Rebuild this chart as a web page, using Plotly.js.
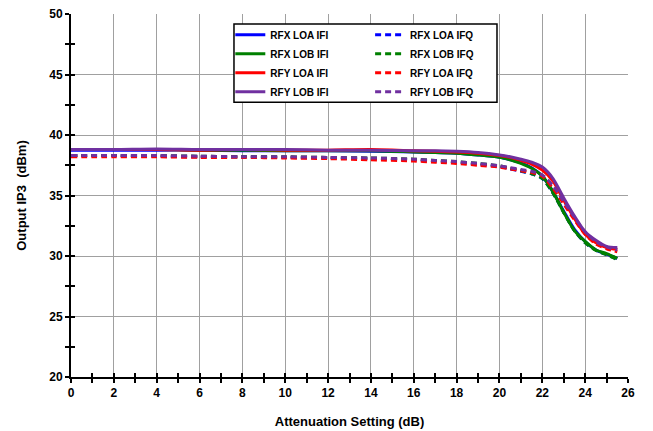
<!DOCTYPE html>
<html>
<head>
<meta charset="utf-8">
<script src="https://cdn.plot.ly/plotly-3.0.1.min.js"></script>
<style>html,body{margin:0;padding:0;background:#fff;}#chart{width:653px;height:431px;}</style>
</head>
<body>
<div id="chart"></div>
<script>
// Attenuation settings (dB)
var atten = [0,2,4,6,8,10,12,14,16,17,18,19,20,20.5,21,21.5,22,22.5,23,23.5,24,24.5,25,25.5];

// Output IP3 (dBm)
var rfxLoaIfi = [38.75,38.75,38.75,38.75,38.7,38.7,38.7,38.65,38.6,38.55,38.5,38.35,38.15,37.95,37.7,37.3,36.6,35.3,33.7,32.2,31.2,30.5,30.15,29.8];
var rfxLoaIfq = [38.3,38.3,38.25,38.2,38.2,38.15,38.1,38.05,37.95,37.85,37.75,37.6,37.4,37.2,37.0,36.8,36.4,35.2,33.6,32.1,31.1,30.5,30.1,29.75];
var rfxLobIfi = [38.8,38.8,38.8,38.75,38.75,38.7,38.7,38.7,38.6,38.55,38.5,38.35,38.15,37.95,37.65,37.25,36.6,35.3,33.6,32.1,31.2,30.5,30.2,29.8];
var rfxLobIfq = [38.3,38.3,38.3,38.25,38.2,38.2,38.15,38.1,38.0,37.9,37.8,37.65,37.45,37.25,37.05,36.8,36.4,35.2,33.6,32.1,31.1,30.45,30.1,29.7];
var rfyLoaIfi = [38.8,38.8,38.8,38.75,38.8,38.75,38.75,38.8,38.7,38.65,38.6,38.5,38.3,38.15,37.9,37.6,37.1,36.2,34.6,33.1,31.8,31.1,30.7,30.55];
var rfyLoaIfq = [38.2,38.2,38.2,38.15,38.15,38.1,38.05,37.95,37.85,37.75,37.65,37.5,37.35,37.2,37.05,36.9,36.6,35.6,34.3,33.0,31.8,31.0,30.6,30.35];
var rfyLobIfi = [38.8,38.8,38.85,38.8,38.8,38.8,38.75,38.75,38.7,38.7,38.65,38.55,38.35,38.2,38.0,37.75,37.35,36.4,34.8,33.3,32.0,31.3,30.8,30.7];
var rfyLobIfq = [38.3,38.3,38.3,38.25,38.2,38.2,38.15,38.1,38.0,37.9,37.8,37.65,37.45,37.3,37.15,37.0,36.7,35.8,34.5,33.2,32.0,31.2,30.75,30.5];

var seriesNames = ['RFX LOA IFI','RFX LOA IFQ','RFX LOB IFI','RFX LOB IFQ','RFY LOA IFI','RFY LOA IFQ','RFY LOB IFI','RFY LOB IFQ'];
var seriesValues = [rfxLoaIfi,rfxLoaIfq,rfxLobIfi,rfxLobIfq,rfyLoaIfi,rfyLoaIfq,rfyLobIfi,rfyLobIfq];
var seriesColors = ['#0000FF','#0000FF','#008000','#008000','#FF0000','#FF0000','#7030A0','#7030A0'];

var xTicks = [0,2,4,6,8,10,12,14,16,18,20,22,24,26];
var yTicks = [20,25,30,35,40,45,50];

var traces = seriesValues.map(function(v,i){
  var isQ = (i % 2 === 1);
  return {
    x: atten, y: v, name: seriesNames[i], type: 'scatter', mode: 'lines',
    line: {color: seriesColors[i], width: 3, dash: isQ ? '6px,4px' : 'solid', shape: 'spline', smoothing: 0.8},
    legend: isQ ? 'legend2' : 'legend'
  };
});
var font = {family: '"Liberation Sans", Arial, sans-serif', color: '#000'};
var tickFont = {family: font.family, size: 12, color: '#000', weight: 'bold'};
var legFont = {family: font.family, size: 10, color: '#000', weight: 'bold'};
var titleFont = {family: font.family, size: 13, color: '#000', weight: 'bold'};

var layout = {
  width: 653, height: 431,
  margin: {l: 71, r: 25, t: 14, b: 54},
  paper_bgcolor: '#fff', plot_bgcolor: '#fff',
  font: font,
  showlegend: true,
  xaxis: {
    range: [0, 26], tickvals: xTicks, ticktext: xTicks.map(String),
    showgrid: true, gridcolor: '#a0a0a0', gridwidth: 1,
    showline: true, linecolor: '#000', linewidth: 2,
    ticks: 'outside', ticklen: 4, tickwidth: 2, tickcolor: '#000',
    minor: {dtick: 1, tick0: 0, ticks: 'outside', ticklen: 4, tickwidth: 2, tickcolor: '#000', showgrid: false},
    tickfont: tickFont, zeroline: false,
    title: {text: 'Attenuation Setting (dB)', font: titleFont, standoff: 17}
  },
  yaxis: {
    range: [20, 50], tickvals: yTicks, ticktext: yTicks.map(String),
    showgrid: true, gridcolor: '#a0a0a0', gridwidth: 1,
    showline: true, linecolor: '#000', linewidth: 2,
    ticks: 'outside', ticklen: 4, tickwidth: 2, tickcolor: '#000',
    minor: {dtick: 2.5, tick0: 20, ticks: 'outside', ticklen: 4, tickwidth: 2, tickcolor: '#000', showgrid: false},
    tickfont: tickFont, zeroline: false,
    title: {text: 'Output IP3  (dBm)', font: titleFont, standoff: 20}
  },
  xaxis2: {
    overlaying: 'x', anchor: 'y', range: [0, 26], tickvals: xTicks, showticklabels: false,
    showgrid: false, zeroline: false, showline: false,
    ticks: 'inside', ticklen: 4, tickwidth: 2, tickcolor: '#000',
    minor: {dtick: 1, tick0: 0, ticks: 'inside', ticklen: 4, tickwidth: 2, tickcolor: '#000', showgrid: false}
  },
  yaxis2: {
    overlaying: 'y', anchor: 'x', range: [20, 50], tickvals: yTicks, showticklabels: false,
    showgrid: false, zeroline: false, showline: false,
    ticks: 'inside', ticklen: 4, tickwidth: 2, tickcolor: '#000',
    minor: {dtick: 2.5, tick0: 20, ticks: 'inside', ticklen: 4, tickwidth: 2, tickcolor: '#000', showgrid: false}
  },
  legend: {
    x: 0.286, y: 0.983, xanchor: 'left', yanchor: 'top', orientation: 'v',
    bgcolor: 'rgba(0,0,0,0)', borderwidth: 0, font: legFont, itemwidth: 30, tracegroupgap: 0
  },
  legend2: {
    x: 0.537, y: 0.983, xanchor: 'left', yanchor: 'top', orientation: 'v',
    bgcolor: 'rgba(0,0,0,0)', borderwidth: 0, font: legFont, itemwidth: 30, tracegroupgap: 0
  },
  shapes: [{
    type: 'rect', xref: 'paper', yref: 'paper', x0: 0.2926, x1: 0.7648, y0: 0.757, y1: 0.9725,
    line: {color: '#000', width: 1.5}, fillcolor: '#fff', layer: 'above'
  }]
};

// invisible helpers so the overlay tick axes are drawn (ticks crossing the axis lines)
traces.push({x: [0], y: [20], xaxis: 'x2', yaxis: 'y', mode: 'markers', marker: {opacity: 0}, showlegend: false, hoverinfo: 'skip'});
traces.push({x: [0], y: [20], xaxis: 'x', yaxis: 'y2', mode: 'markers', marker: {opacity: 0}, showlegend: false, hoverinfo: 'skip'});

Plotly.newPlot('chart', traces, layout, {staticPlot: true, displayModeBar: false});
</script>
</body>
</html>
